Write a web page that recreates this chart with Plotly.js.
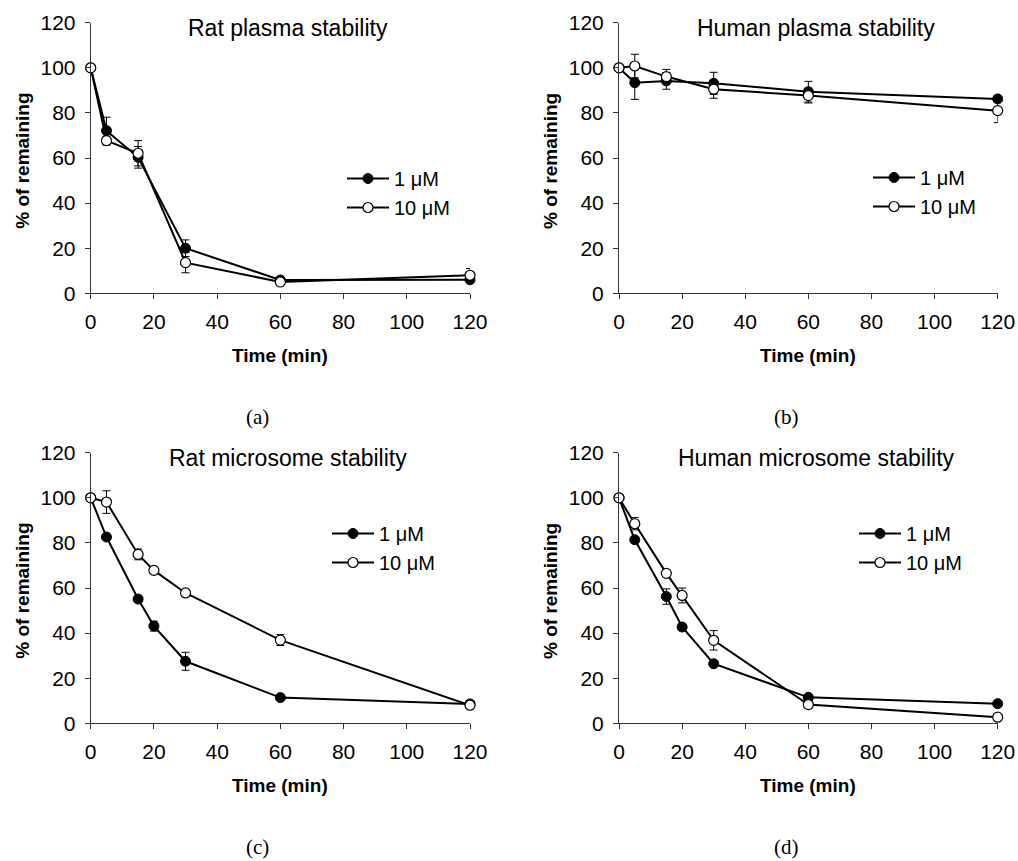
<!DOCTYPE html>
<html>
<head>
<meta charset="utf-8">
<script src="https://cdn.plot.ly/plotly-3.0.1.min.js"></script>
<style>
html,body{margin:0;padding:0;background:#fff;}
#chart{width:1018px;height:861px;}
</style>
</head>
<body>
<div id="chart"></div>
<script>
// ---- Data ----
const panelTitles = ["Rat plasma stability", "Human plasma stability", "Rat microsome stability", "Human microsome stability"];
const panelLabels = ["(a)", "(b)", "(c)", "(d)"];
const seriesNames = ["1 \u03BCM", "10 \u03BCM"];
const xTickVals = [0, 20, 40, 60, 80, 100, 120];
const yTickVals = [0, 20, 40, 60, 80, 100, 120];

const timePlasma = [0, 5, 15, 30, 60, 120];
const timeMicro = [0, 5, 15, 20, 30, 60, 120];

const ratPlasma1 = [100, 72.1, 60.3, 20.0, 5.9, 6.0];
const ratPlasma1Err = [0, 6.0, 4.8, 3.7, 1.0, 1.0];
const ratPlasma10 = [100, 67.7, 62.1, 13.6, 5.0, 8.0];
const ratPlasma10Err = [0, 2.0, 5.6, 4.5, 0.5, 3.0];

const humPlasma1 = [100, 93.4, 94.2, 93.1, 89.4, 86.2];
const humPlasma1Err = [0, 7.4, 3.7, 4.9, 4.6, 1.5];
const humPlasma10 = [100, 100.8, 96.1, 90.5, 87.7, 81.0];
const humPlasma10Err = [0, 5.2, 3.2, 4.0, 3.3, 5.3];

const ratMicro1 = [100, 82.6, 55.1, 43.1, 27.5, 11.4, 8.6];
const ratMicro1Err = [0, 1.0, 1.5, 2.2, 4.0, 0.8, 0.5];
const ratMicro10 = [100, 98.1, 74.9, 67.8, 57.8, 36.9, 8.0];
const ratMicro10Err = [0, 5.0, 2.4, 1.5, 1.0, 2.4, 0.8];

const humMicro1 = [100, 81.4, 56.2, 42.7, 26.4, 11.5, 8.7];
const humMicro1Err = [0, 1.0, 3.4, 1.5, 1.0, 1.0, 0.5];
const humMicro10 = [100, 88.5, 66.5, 56.7, 36.8, 8.3, 2.7];
const humMicro10Err = [0, 2.7, 1.0, 3.3, 4.3, 1.0, 0.5];

// ---- Build ----
const W = 1018, H = 861;
const panels = [
  {t: timePlasma, s1: ratPlasma1, e1: ratPlasma1Err, s2: ratPlasma10, e2: ratPlasma10Err},
  {t: timePlasma, s1: humPlasma1, e1: humPlasma1Err, s2: humPlasma10, e2: humPlasma10Err},
  {t: timeMicro, s1: ratMicro1, e1: ratMicro1Err, s2: ratMicro10, e2: ratMicro10Err},
  {t: timeMicro, s1: humMicro1, e1: humMicro1Err, s2: humMicro10, e2: humMicro10Err}
];
// pixel geometry of plot areas [left, right, top, bottom]
const geo = [
  [90.7, 470, 22.7, 293.3],
  [619, 997.7, 22.7, 293.3],
  [90.7, 470, 452.7, 723.3],
  [619, 997.7, 452.7, 723.3]
];
const FONT = "Arial, 'Liberation Sans', sans-serif";
const axisColor = "#333";
const traces = [];
const layout = {
  width: W, height: H,
  margin: {l: 0, r: 0, t: 0, b: 0},
  paper_bgcolor: "#fff", plot_bgcolor: "#fff",
  font: {family: FONT, color: "#000", size: 20},
  showlegend: true,
  annotations: []
};
const legendPos = [[342, 159], [868, 158], [327, 514], [854, 514]];

panels.forEach((p, i) => {
  const n = i + 1;
  const xa = n === 1 ? "x" : "x" + n;
  const ya = n === 1 ? "y" : "y" + n;
  const lg = n === 1 ? "legend" : "legend" + n;
  const g = geo[i];
  traces.push({
    x: p.t, y: p.s1, type: "scatter", mode: "lines+markers", name: seriesNames[0],
    xaxis: xa, yaxis: ya, legend: lg, cliponaxis: false,
    line: {color: "#000", width: 2},
    marker: {symbol: "circle", size: 10, color: "#000", line: {color: "#000", width: 1}},
    error_y: {type: "data", array: p.e1, visible: true, color: "#000", thickness: 1, width: 4}
  });
  traces.push({
    x: p.t, y: p.s2, type: "scatter", mode: "lines+markers", name: seriesNames[1],
    xaxis: xa, yaxis: ya, legend: lg, cliponaxis: false,
    line: {color: "#000", width: 2},
    marker: {symbol: "circle", size: 10, color: "#fff", line: {color: "#000", width: 1.2}},
    error_y: {type: "data", array: p.e2, visible: true, color: "#000", thickness: 1, width: 4}
  });
  const xkey = n === 1 ? "xaxis" : "xaxis" + n;
  const ykey = n === 1 ? "yaxis" : "yaxis" + n;
  layout[xkey] = {
    domain: [g[0] / W, g[1] / W], anchor: ya, range: [0, 120],
    tickvals: xTickVals, ticktext: xTickVals.map(String),
    showgrid: false, zeroline: false, showline: true, linecolor: axisColor, linewidth: 1,
    ticks: "outside", ticklen: 5, tickwidth: 1, tickcolor: axisColor,
    ticklabelstandoff: 4, tickfont: {size: 21, family: FONT, color: "#000"}, fixedrange: true
  };
  layout[ykey] = {
    domain: [1 - g[3] / H, 1 - g[2] / H], anchor: xa, range: [0, 120],
    tickvals: yTickVals, ticktext: yTickVals.map(String),
    showgrid: false, zeroline: false, showline: true, linecolor: axisColor, linewidth: 1,
    ticks: "outside", ticklen: 5, tickwidth: 1, tickcolor: axisColor,
    ticklabelstandoff: 5, tickfont: {size: 21, family: FONT, color: "#000"}, fixedrange: true
  };
  layout[lg] = {
    x: legendPos[i][0] / W, y: 1 - legendPos[i][1] / H, xanchor: "left", yanchor: "top",
    bgcolor: "rgba(0,0,0,0)", borderwidth: 0, font: {size: 20, family: FONT, color: "#000"},
    tracegroupgap: 0, itemwidth: 42
  };
  const cx = (g[0] + g[1]) / 2;
  // panel title
  layout.annotations.push({
    xref: "paper", yref: "paper", x: (cx + 8) / W, y: 1 - (g[2] + 5) / H,
    xanchor: "center", yanchor: "middle", showarrow: false,
    text: panelTitles[i], font: {size: 23, family: FONT, color: "#000"}
  });
  // x axis title
  layout.annotations.push({
    xref: "paper", yref: "paper", x: cx / W, y: 1 - (g[3] + 62) / H,
    xanchor: "center", yanchor: "middle", showarrow: false,
    text: "<b>Time (min)</b>", font: {size: 19, family: FONT, color: "#000"}
  });
  // y axis title
  layout.annotations.push({
    xref: "paper", yref: "paper", x: (g[0] - 69) / W, y: 1 - ((g[2] + g[3]) / 2 + 3) / H,
    xanchor: "center", yanchor: "middle", showarrow: false, textangle: -90,
    text: "<b>% of remaining</b>", font: {size: 19, family: FONT, color: "#000"}
  });
  // subplot label
  layout.annotations.push({
    xref: "paper", yref: "paper", x: (g[0] + 167) / W, y: 1 - (g[3] + 124) / H,
    xanchor: "center", yanchor: "middle", showarrow: false,
    text: panelLabels[i], font: {size: 21, family: "'Liberation Serif', 'DejaVu Serif', serif", color: "#000"}
  });
});

Plotly.newPlot("chart", traces, layout, {displayModeBar: false, staticPlot: true});
</script>
</body>
</html>
